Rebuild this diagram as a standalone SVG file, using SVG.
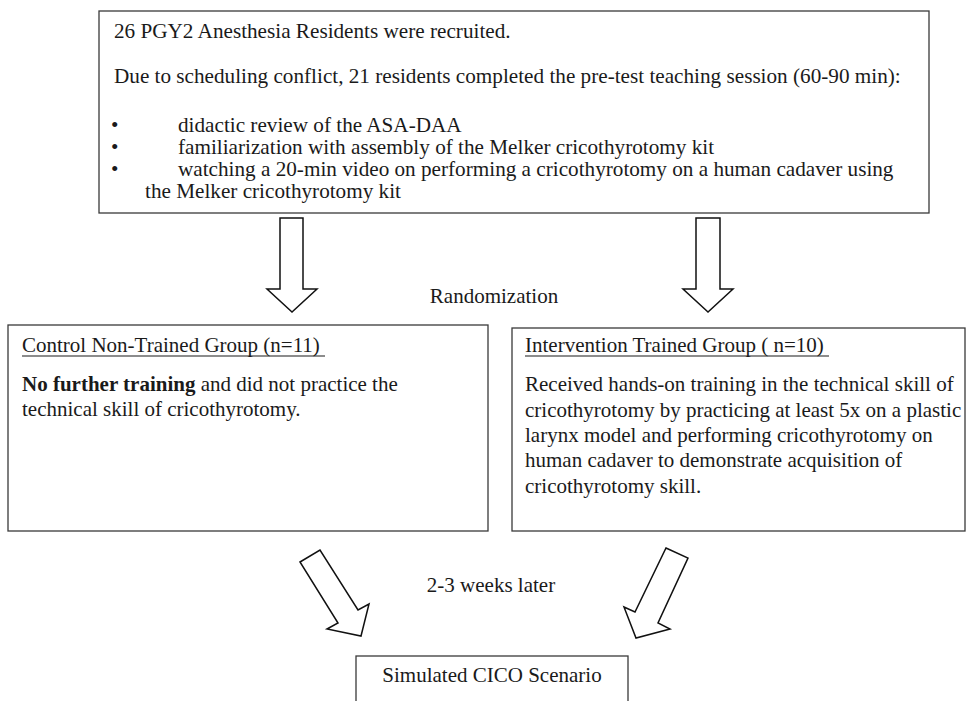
<svg xmlns="http://www.w3.org/2000/svg" width="972" height="701" viewBox="0 0 972 701">
<style>
.box{fill:#fff;stroke:#3a3a3a;stroke-width:1.3}
.arr{fill:#fff;stroke:#111;stroke-width:1.5;stroke-linejoin:miter}
text{font-family:"Liberation Serif","Times New Roman",serif;font-size:21px;fill:#1a1a1a}
.t{font-size:21.2px}
.b{font-weight:bold}
.ul{stroke:#1a1a1a;stroke-width:1.2}
</style>
<rect width="972" height="701" fill="#fff"/>
<g id="top">
<rect class="box" x="99" y="11" width="830" height="202"/>
<text class="t" x="114" y="38">26 PGY2 Anesthesia Residents were recruited.</text>
<text class="t" x="114" y="83">Due to scheduling conflict, 21 residents completed the pre-test teaching session (60-90 min):</text>
<text class="t" x="111" y="132">•</text><text class="t" x="178" y="132">didactic review of the ASA-DAA</text>
<text class="t" x="111" y="154">•</text><text class="t" x="178" y="154">familiarization with assembly of the Melker cricothyrotomy kit</text>
<text class="t" x="111" y="176">•</text><text class="t" x="178" y="176">watching a 20-min video on performing a cricothyrotomy on a human cadaver using</text>
<text class="t" x="145" y="198">the Melker cricothyrotomy kit</text>
</g>
<g id="control">
<rect class="box" x="8" y="325" width="480" height="206"/>
<text x="22" y="352">Control Non-Trained Group (n=11)</text>
<line class="ul" x1="22" y1="356" x2="325" y2="356"/>
<text x="22" y="391"><tspan class="b">No further training</tspan> and did not practice the</text>
<text x="22" y="416">technical skill of cricothyrotomy.</text>
</g>
<g id="intervention">
<rect class="box" x="512" y="328" width="453" height="203"/>
<text x="525" y="352">Intervention Trained Group ( n=10)</text>
<line class="ul" x1="525" y1="356" x2="829" y2="356"/>
<text x="525" y="391">Received hands-on training in the technical skill of</text>
<text x="525" y="417">cricothyrotomy by practicing at least 5x on a plastic</text>
<text x="525" y="442">larynx model and performing cricothyrotomy on</text>
<text x="525" y="467">human cadaver to demonstrate acquisition of</text>
<text x="525" y="493">cricothyrotomy skill.</text>
</g>
<g id="cico">
<rect class="box" x="356" y="656" width="272" height="60"/>
<text x="492" y="682" text-anchor="middle">Simulated CICO Scenario</text>
</g>
<g id="connectors">
<polygon class="arr" points="280,218 303,218 303,289 317,289 292,312 267,289 280,289"/>
<polygon class="arr" points="696,218 720,218 720,289 733,289 708,312 683,289 696,289"/>
<polygon class="arr" points="300,562 320,550 358,610 369,604 361,636 327,629 338,623"/>
<polygon class="arr" points="666,548 688,558 658,623 670,629 636,638 624,607 635,612"/>
<text x="494" y="303" text-anchor="middle">Randomization</text>
<text x="491" y="592" text-anchor="middle">2-3 weeks later</text>
</g>
</svg>
